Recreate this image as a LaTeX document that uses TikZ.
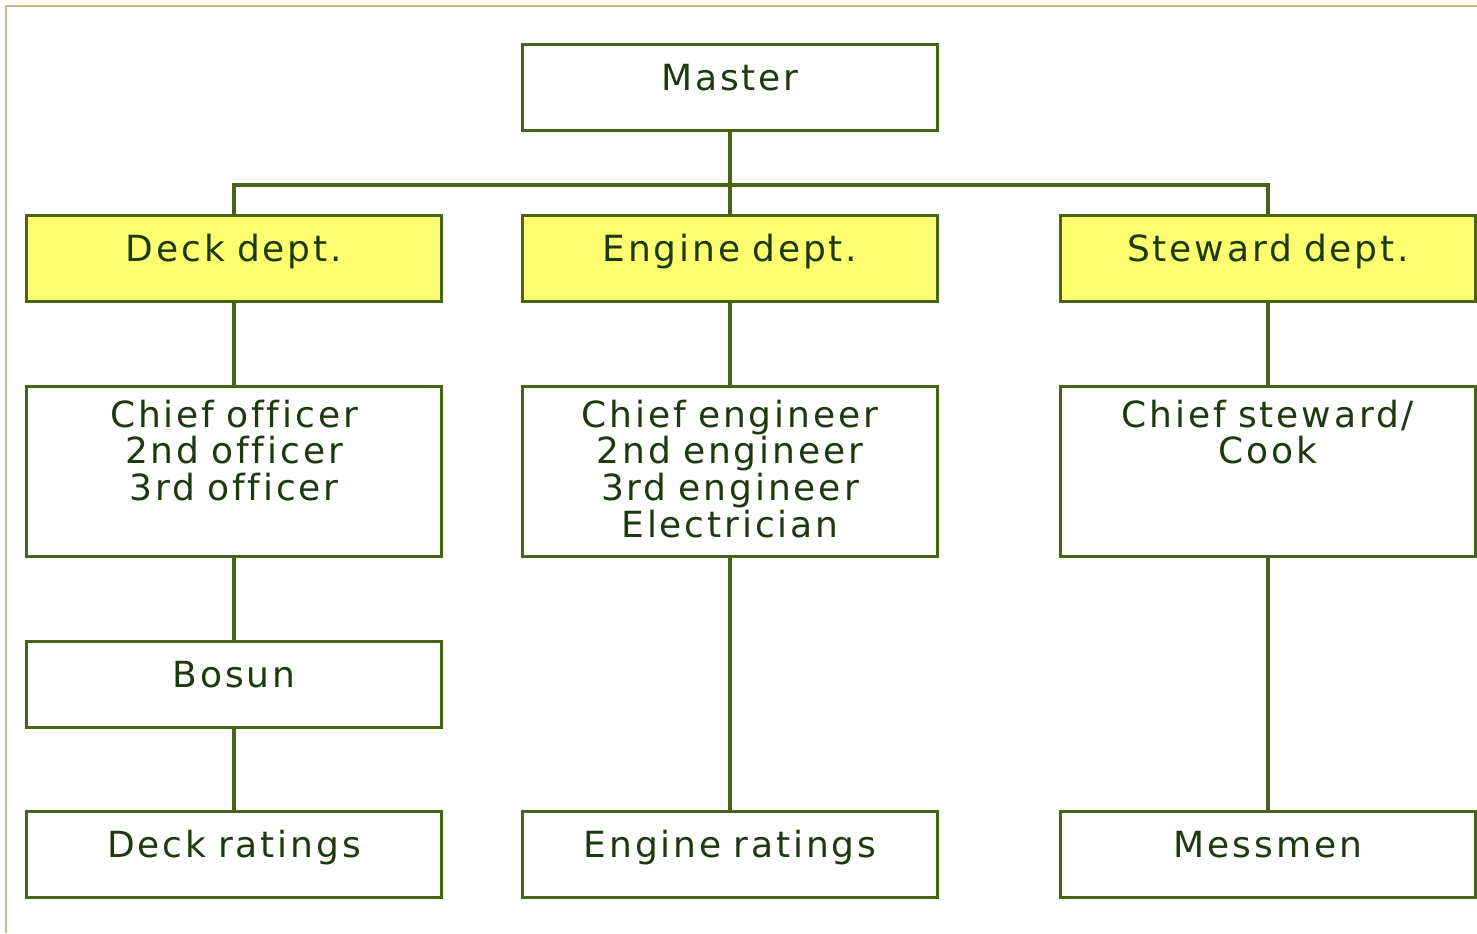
\documentclass[tikz,border=0pt]{standalone}
\usepackage{fontspec}
\setmainfont{DejaVu Sans}[LetterSpace=8, WordSpace=2.2, Ligatures=NoCommon]
\definecolor{linegreen}{RGB}{72,100,22}
\definecolor{textgreen}{RGB}{28,58,14}
\definecolor{deptyellow}{RGB}{255,255,112}
\definecolor{frametan}{RGB}{200,186,140}
\tikzset{
  rank/.style={draw=linegreen, line width=1.8pt, inner sep=0pt, anchor=north,
    minimum width=8.3cm, text width=8.3cm, align=center, text=textgreen,
    font=\fontsize{20.5}{21}\selectfont, text height=0.92cm, text depth=0.8cm},
  dept/.style={rank, fill=deptyellow},
  crew/.style={rank, text height=0.81cm, text depth=2.59cm},
  link/.style={draw=linegreen, line width=2pt}
}
\begin{document}
\begin{tikzpicture}[x=0.02cm,y=-0.02cm]
                \useasboundingbox (0,0) rectangle (1477,933);
                \draw[frametan, line width=1pt] (6,933) -- (6,6) -- (1477,6);

                \node[rank] (master) at (730,43) {Master};

                \node[dept] (deck) at (234,214) {Deck dept.};
                \node[dept] (engine) at (730,214) {Engine dept.};
                \node[dept] (steward) at (1268,214) {Steward dept.};

                \node[crew] (deckoff) at (234,385) {Chief officer\\2nd officer\\3rd officer};
                \node[crew] (engoff) at (730,385) {Chief engineer\\2nd engineer\\3rd engineer\\Electrician};
                \node[crew] (stewoff) at (1268,385) {Chief steward/\\Cook};

                \node[rank] (bosun) at (234,640) {Bosun};

                \node[rank] (deckrat) at (234,810) {Deck ratings};
                \node[rank] (engrat) at (730,810) {Engine ratings};
                \node[rank] (mess) at (1268,810) {Messmen};

                \coordinate (bus) at (234,185);
                \draw[link] (master.south) -- (engine.north);
                \draw[link] (deck.north) -- (bus) -| (steward.north);

                \draw[link] (deck.south) -- (deckoff.north);
                \draw[link] (deckoff.south) -- (bosun.north);
                \draw[link] (bosun.south) -- (deckrat.north);
                \draw[link] (engine.south) -- (engoff.north);
                \draw[link] (engoff.south) -- (engrat.north);
                \draw[link] (steward.south) -- (stewoff.north);
                \draw[link] (stewoff.south) -- (mess.north);
            \end{tikzpicture}
\end{document}
